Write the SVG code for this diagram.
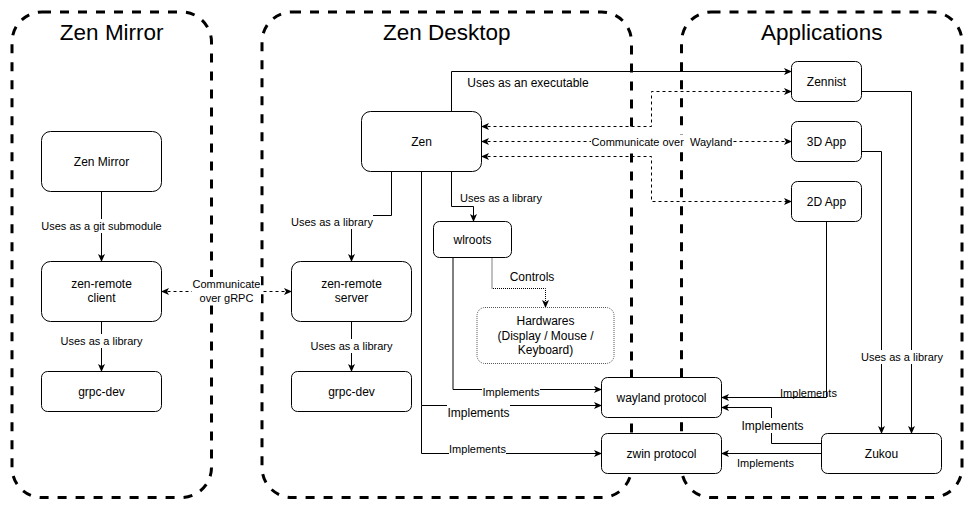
<svg xmlns="http://www.w3.org/2000/svg" width="973" height="519" viewBox="0 0 973 519">
<style>
.cont{fill:none;stroke:#000;stroke-width:3;stroke-dasharray:9 9}
.title{font-family:"Liberation Sans",Arial,sans-serif;font-size:22.5px;fill:#000;text-anchor:middle}
.node rect{fill:#fff;stroke:#000;stroke-width:1}
.node text{font-family:"Liberation Sans",Arial,sans-serif;font-size:12px;fill:#000;text-anchor:middle}
.e{fill:none;stroke:#000;stroke-width:1}
.dash{stroke-dasharray:3 3}
.dot{stroke-dasharray:1 1}
.lbl{font-family:"Liberation Sans",Arial,sans-serif;font-size:11px;fill:#000;text-anchor:middle}
.lbl12{font-size:12px}
.bg{fill:#fff;stroke:none}
</style>
<defs>
<marker id="arr" viewBox="0 0 8 8" refX="7.5" refY="4" markerWidth="8" markerHeight="8" markerUnits="userSpaceOnUse" orient="auto-start-reverse">
<path d="M0,0.5 L8,4 L0,7.5 L2,4 Z" fill="#000"/>
</marker>
</defs>
<rect width="973" height="519" fill="#fff"/>

<g id="containers">
<g id="zen-mirror-group">
<rect class="cont" x="12" y="12" width="199.5" height="485.5" rx="30"/>
<text class="title" x="111.75" y="40">Zen Mirror</text>
</g>
<g id="zen-desktop-group">
<rect class="cont" x="262" y="12" width="369.5" height="485.5" rx="30"/>
<text class="title" x="446.75" y="40">Zen Desktop</text>
</g>
<g id="applications-group">
<rect class="cont" x="681.5" y="12" width="280.5" height="485.5" rx="30"/>
<text class="title" x="821.75" y="40">Applications</text>
</g>
</g>

<g id="connectors">
<path class="e" d="M101.5,191.5 V261.5" marker-end="url(#arr)"/>
<path class="e" d="M101.5,321.5 V371.5" marker-end="url(#arr)"/>
<path class="e dash" d="M161.5,291.5 H291.5" marker-start="url(#arr)" marker-end="url(#arr)"/>
<path class="e" d="M391.5,171.5 V215.5 H351.5 V261.5" marker-end="url(#arr)"/>
<path class="e" d="M351.5,321.5 V371.5" marker-end="url(#arr)"/>
<path class="e" d="M451.5,171.5 V206.5 H473.5 V221.5" marker-end="url(#arr)"/>
<path class="e" d="M453,257.5 V389.5 H601.5" marker-end="url(#arr)"/>
<path class="e dot" d="M492,257.5 V288.5 H545.5 V307.5" marker-end="url(#arr)"/>
<path class="e" d="M421.5,171.5 V405.5 H601.5" marker-end="url(#arr)"/>
<path class="e" d="M421.5,405.5 V453.5 H601.5" marker-end="url(#arr)"/>
<path class="e" d="M451.5,111.5 V71.5 H791.5" marker-end="url(#arr)"/>
<path class="e dash" d="M481.5,126.5 H651.5 V91.5 H791.5" marker-start="url(#arr)" marker-end="url(#arr)"/>
<path class="e dash" d="M481.5,141.5 H791.5" marker-start="url(#arr)" marker-end="url(#arr)"/>
<path class="e dash" d="M481.5,156.5 H651.5 V201.5 H791.5" marker-start="url(#arr)" marker-end="url(#arr)"/>
<path class="e" d="M861.5,91.5 H911.5 V433.5" marker-end="url(#arr)"/>
<path class="e" d="M861.5,151.5 H881.5 V433.5" marker-end="url(#arr)"/>
<path class="e" d="M826.5,221.5 V397.5 H721.5" marker-end="url(#arr)"/>
<path class="e" d="M821.5,443.5 H771.5 V407.5 H721.5" marker-end="url(#arr)"/>
<path class="e" d="M821.5,453.5 H721.5" marker-end="url(#arr)"/>
</g>

<g id="edge-labels">
<rect class="bg" x="41" y="219" width="121" height="14"/>
<text class="lbl" x="101.5" y="230">Uses as a git submodule</text>
<rect class="bg" x="60" y="334" width="83" height="14"/>
<text class="lbl" x="101.5" y="345">Uses as a library</text>
<rect class="bg" x="192" y="277" width="69" height="28"/>
<text class="lbl" x="226.5" y="288">Communicate</text>
<text class="lbl" x="226.5" y="302">over gRPC</text>
<rect class="bg" x="291" y="215" width="82" height="14"/>
<text class="lbl" x="332" y="226">Uses as a library</text>
<rect class="bg" x="310" y="339" width="83" height="14"/>
<text class="lbl" x="351.5" y="350">Uses as a library</text>
<text class="lbl" x="501" y="201.5">Uses as a library</text>
<text class="lbl lbl12" x="532" y="281">Controls</text>
<text class="lbl lbl12" x="528" y="86.5">Uses as an executable</text>
<rect class="bg" x="591" y="134.5" width="142" height="14"/>
<text class="lbl" x="662" y="145.5" xml:space="preserve">Communicate over  Wayland</text>
<rect class="bg" x="482" y="385.5" width="58" height="14"/>
<text class="lbl" x="511" y="396">Implements</text>
<rect class="bg" x="447" y="404.5" width="63" height="15"/>
<text class="lbl lbl12" x="478.5" y="416.5">Implements</text>
<rect class="bg" x="449" y="441.5" width="57" height="14"/>
<text class="lbl" x="477.5" y="452.5">Implements</text>
<text class="lbl" x="808.5" y="396.5">Implements</text>
<rect class="bg" x="741" y="418" width="63" height="15"/>
<text class="lbl lbl12" x="772.5" y="430">Implements</text>
<text class="lbl" x="765.5" y="466.5">Implements</text>
<rect class="bg" x="860" y="350" width="84" height="14"/>
<text class="lbl" x="902" y="361">Uses as a library</text>
</g>

<g id="node-zen-mirror" class="node"><rect x="41.5" y="131.5" width="120" height="60" rx="9"/><text x="101.5" y="165.5">Zen Mirror</text></g>
<g id="node-zen-remote-client" class="node"><rect x="41.5" y="261.5" width="120" height="60" rx="9"/><text x="101.5" y="288">zen-remote</text><text x="101.5" y="302">client</text></g>
<g id="node-grpc-dev-left" class="node"><rect x="41.5" y="371.5" width="120" height="40" rx="6"/><text x="101.5" y="395.5">grpc-dev</text></g>
<g id="node-zen-remote-server" class="node"><rect x="291.5" y="261.5" width="120" height="60" rx="9"/><text x="351.5" y="288">zen-remote</text><text x="351.5" y="302">server</text></g>
<g id="node-grpc-dev-mid" class="node"><rect x="291.5" y="371.5" width="120" height="40" rx="6"/><text x="351.5" y="395.5">grpc-dev</text></g>
<g id="node-zen" class="node"><rect x="361.5" y="111.5" width="120" height="60" rx="9"/><text x="421.5" y="145.5">Zen</text></g>
<g id="node-wlroots" class="node"><rect x="433.5" y="221.5" width="78" height="36" rx="6"/><text x="472.5" y="243.5">wlroots</text></g>
<g id="node-hardwares" class="node"><rect x="477" y="307.5" width="137" height="56" rx="8" style="stroke:#555;stroke-dasharray:1 1"/><text x="545.5" y="325">Hardwares</text><text x="545.5" y="339.5">(Display / Mouse /</text><text x="545.5" y="354">Keyboard)</text></g>
<g id="node-wayland-protocol" class="node"><rect x="601.5" y="377.5" width="120" height="40" rx="6"/><text x="661.5" y="401.5">wayland protocol</text></g>
<g id="node-zwin-protocol" class="node"><rect x="601.5" y="433.5" width="120" height="40" rx="6"/><text x="661.5" y="457.5">zwin protocol</text></g>
<g id="node-zennist" class="node"><rect x="791.5" y="61.5" width="70" height="40" rx="6"/><text x="826.5" y="85.5">Zennist</text></g>
<g id="node-3d-app" class="node"><rect x="791.5" y="121.5" width="70" height="40" rx="6"/><text x="826.5" y="145.5">3D App</text></g>
<g id="node-2d-app" class="node"><rect x="791.5" y="181.5" width="70" height="40" rx="6"/><text x="826.5" y="205.5">2D App</text></g>
<g id="node-zukou" class="node"><rect x="821.5" y="433.5" width="120" height="40" rx="6"/><text x="881.5" y="457.5">Zukou</text></g>
</svg>
